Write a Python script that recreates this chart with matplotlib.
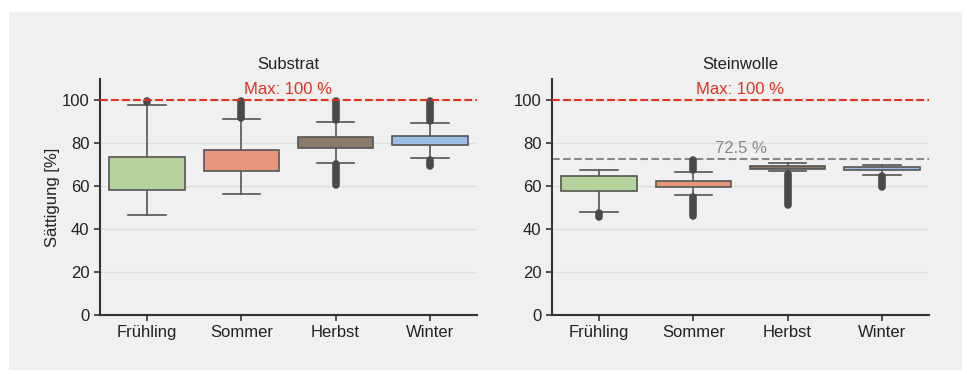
import numpy as np
import matplotlib.pyplot as plt
from matplotlib.patches import Rectangle

plt.rcParams['font.family'] = ['Liberation Sans', 'DejaVu Sans']

seasons = ["Frühling", "Sommer", "Herbst", "Winter"]
colors = ["#b6d29c", "#e8967a", "#8c7a68", "#9cbde6"]

# Substrat: box statistics per season
sub_q1 = [58.1, 67.1, 78.0, 79.2]
sub_med = [68.5, 71.8, 80.5, 80.9]
sub_q3 = [73.8, 76.7, 82.9, 83.6]
sub_wlo = [46.5, 56.4, 71.0, 73.3]
sub_whi = [97.7, 91.3, 90.1, 89.5]
# outlier ranges (min, max) below and above the whiskers; None = no outliers
sub_out_lo = [None, None, (60.5, 70.3), (69.6, 72.4)]
sub_out_hi = [(99.2, 99.6), (92.0, 99.8), (91.0, 99.8), (90.6, 99.8)]

# Steinwolle
stw_q1 = [58.0, 59.7, 68.2, 67.5]
stw_med = [62.8, 61.2, 69.0, 68.3]
stw_q3 = [64.7, 62.5, 69.5, 69.1]
stw_wlo = [48.1, 55.7, 67.3, 65.3]
stw_whi = [67.6, 66.7, 70.7, 69.8]
stw_out_lo = [(45.6, 47.4), (46.0, 54.8), (51.2, 65.6), (59.6, 65.0)]
stw_out_hi = [None, (67.6, 72.1), None, None]

max_line = 100
stw_ref = 72.5

bg = "#eff0ef"
edge = "#555555"
dark = "#4a4a4a"

fig = plt.figure(figsize=(9.67, 3.74), dpi=100, facecolor="white")
fig.patches.append(Rectangle((9 / 967, 4 / 374), 953 / 967, 358 / 374,
                             transform=fig.transFigure, facecolor=bg,
                             edgecolor="none", zorder=-10))

ax1 = fig.add_axes([100 / 967, 59 / 374, 377 / 967, 236 / 374])
ax2 = fig.add_axes([552 / 967, 59 / 374, 377 / 967, 236 / 374])


def draw_panel(ax, title, q1, med, q3, wlo, whi, out_lo, out_hi):
    ax.set_facecolor(bg)
    stats = []
    for i in range(len(seasons)):
        stats.append(dict(med=med[i], q1=q1[i], q3=q3[i],
                          whislo=wlo[i], whishi=whi[i], fliers=[]))
    bp = ax.bxp(stats, positions=range(len(seasons)), widths=0.8,
                patch_artist=True, showfliers=False,
                boxprops=dict(edgecolor=edge, linewidth=1.2),
                medianprops=dict(color=edge, linewidth=1.2),
                whiskerprops=dict(color=edge, linewidth=1.2),
                capprops=dict(color=edge, linewidth=1.2))
    for i, box in enumerate(bp["boxes"]):
        box.set_facecolor(colors[i])
        box.set_zorder(3)
    for cap in bp["caps"]:
        x0, x1 = cap.get_xdata()
        c = (x0 + x1) / 2
        cap.set_xdata([c - 0.2, c + 0.2])
    # dense outliers drawn as a run of points
    for i in range(len(seasons)):
        for rng in (out_lo[i], out_hi[i]):
            if rng is None:
                continue
            ax.plot([i, i], rng, color=dark, lw=5.5,
                    solid_capstyle="round", zorder=4)

    ax.set_xlim(-0.5, 3.5)
    ax.set_ylim(0, 110)
    ax.set_yticks([0, 20, 40, 60, 80, 100])
    ax.set_xticks(range(len(seasons)))
    ax.set_xticklabels(seasons)
    ax.yaxis.grid(True, color="#dedede", lw=1)
    ax.set_axisbelow(True)
    for s in ("top", "right"):
        ax.spines[s].set_visible(False)
    for s in ("left", "bottom"):
        ax.spines[s].set_linewidth(1.5)
        ax.spines[s].set_color("#333333")
    ax.tick_params(labelsize=12, length=4, width=1.2, color="#333333",
                   labelcolor="#222222")
    ax.set_title(title, fontsize=12, pad=7, color="#222222")
    ax.axhline(max_line, color="#e0321e", ls="--", lw=1.5, zorder=5)
    ax.text(1.5, max_line + 1.5, f"Max: {max_line} %", color="#e0321e",
            fontsize=12, ha="center", va="bottom")


draw_panel(ax1, "Substrat", sub_q1, sub_med, sub_q3, sub_wlo, sub_whi,
           sub_out_lo, sub_out_hi)
draw_panel(ax2, "Steinwolle", stw_q1, stw_med, stw_q3, stw_wlo, stw_whi,
           stw_out_lo, stw_out_hi)

ax1.set_ylabel("Sättigung [%]", fontsize=12, color="#222222", labelpad=1)

ax2.axhline(stw_ref, color="#888888", ls="--", lw=1.5, zorder=2)
ax2.text(1.5, stw_ref + 1.5, f"{stw_ref} %", color="#888888",
         fontsize=12, ha="center", va="bottom")

fig.savefig("out.png", dpi=100, facecolor="white")
